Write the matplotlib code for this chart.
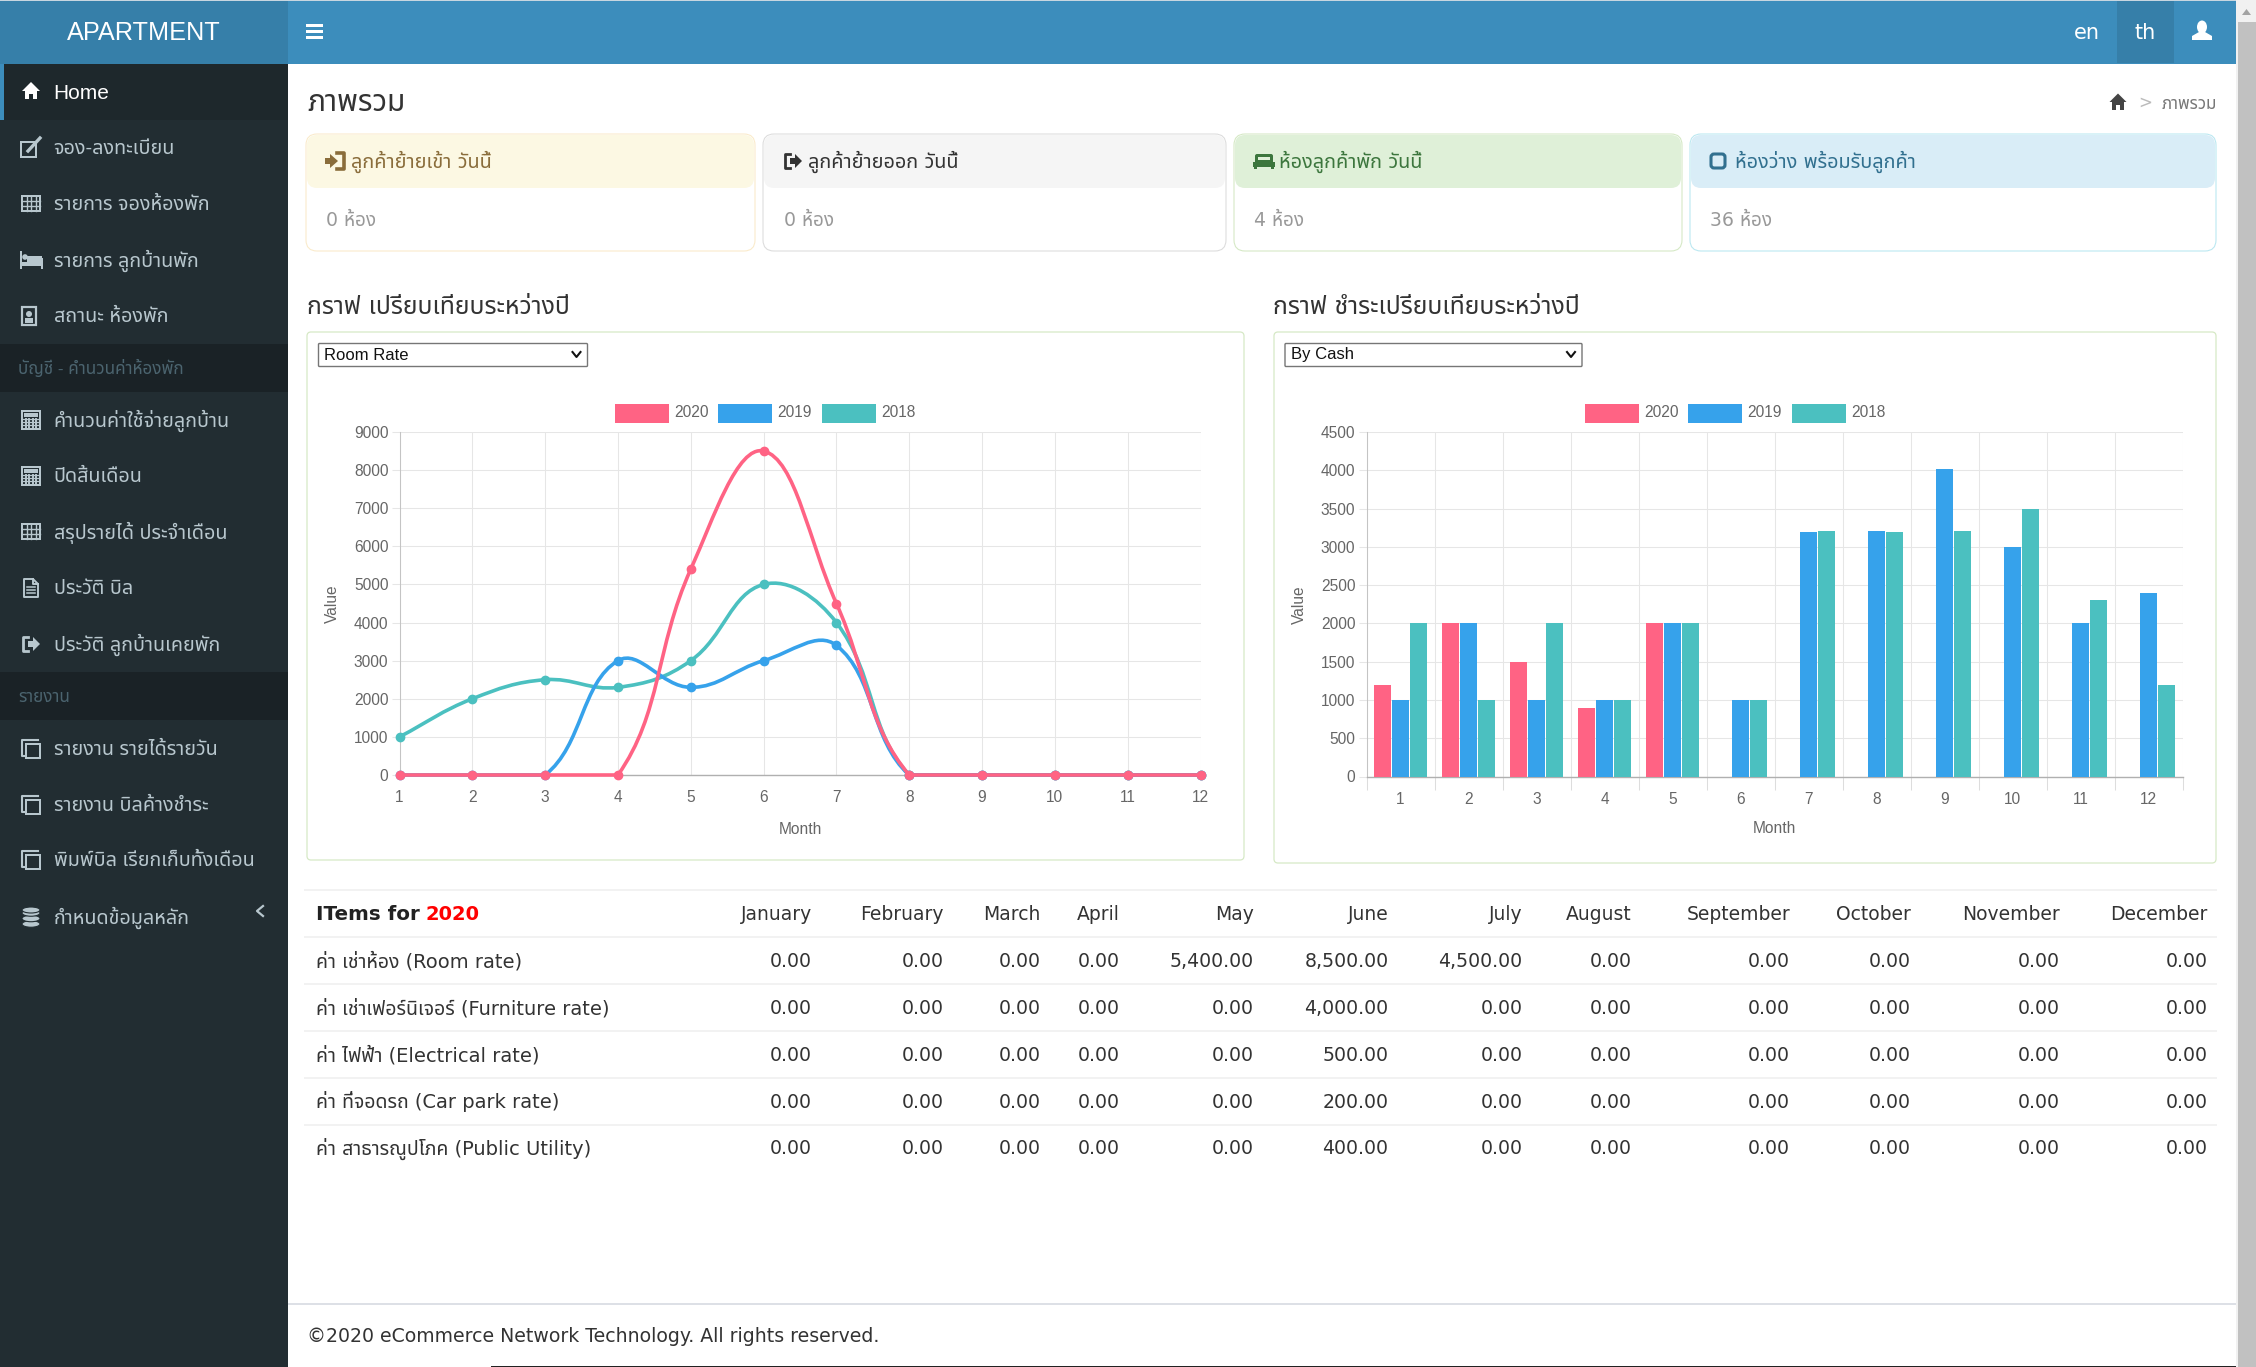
import numpy as np
import matplotlib
matplotlib.use("Agg")
import matplotlib.pyplot as plt
from matplotlib.patches import Rectangle, FancyBboxPatch, Polygon, Circle, Ellipse, PathPatch
from matplotlib.path import Path

W, H = 2256, 1367
plt.rcParams['font.family'] = ['Liberation Sans', 'Noto Sans Thai']
BODY = ['DejaVu Sans', 'Noto Sans Thai']
ARIAL = ['Liberation Sans', 'Noto Sans Thai']

# ---- data ----
months = list(range(1, 13))
series_names = ["2020", "2019", "2018"]
series_colors = ["#ff6384", "#36a2eb", "#4bc0c0"]

room_2020 = [0, 0, 0, 0, 5400, 8500, 4500, 0, 0, 0, 0, 0]
room_2019 = [0, 0, 0, 3000, 2300, 3000, 3400, 0, 0, 0, 0, 0]
room_2018 = [1000, 2000, 2500, 2300, 3000, 5000, 4000, 0, 0, 0, 0, 0]

cash_2020 = [1200, 2000, 1500, 900, 2000, 0, 0, 0, 0, 0, 0, 0]
cash_2019 = [1000, 2000, 1000, 1000, 2000, 1000, 3200, 3210, 4020, 3000, 2000, 2400]
cash_2018 = [2000, 1000, 2000, 1000, 2000, 1000, 3210, 3200, 3210, 3500, 2300, 1200]

month_names = ["January", "February", "March", "April", "May", "June", "July",
               "August", "September", "October", "November", "December"]
row_labels = ["ค่า เช่าห้อง (Room rate)", "ค่า เช่าเฟอร์นิเจอร์ (Furniture rate)",
              "ค่า ไฟฟ้า (Electrical rate)", "ค่า ที่จอดรถ (Car park rate)",
              "ค่า สาธารณูปโภค (Public Utility)"]
room_rate = [0, 0, 0, 0, 5400, 8500, 4500, 0, 0, 0, 0, 0]
furniture_rate = [0, 0, 0, 0, 0, 4000, 0, 0, 0, 0, 0, 0]
electrical_rate = [0, 0, 0, 0, 0, 500, 0, 0, 0, 0, 0, 0]
car_park_rate = [0, 0, 0, 0, 0, 200, 0, 0, 0, 0, 0, 0]
public_utility = [0, 0, 0, 0, 0, 400, 0, 0, 0, 0, 0, 0]

menu_top = ["Home", "จอง-ลงทะเบียน", "รายการ จองห้องพัก", "รายการ ลูกบ้านพัก", "สถานะ ห้องพัก"]
menu_account = ["คำนวนค่าใช้จ่ายลูกบ้าน", "ปิดสิ้นเดือน", "สรุปรายได้ ประจำเดือน", "ประวัติ บิล", "ประวัติ ลูกบ้านเคยพัก"]
menu_report = ["รายงาน รายได้รายวัน", "รายงาน บิลค้างชำระ", "พิมพ์บิล เรียกเก็บทั้งเดือน", "กำหนดข้อมูลหลัก"]
card_titles = ["ลูกค้าย้ายเข้า วันนี้", "ลูกค้าย้ายออก วันนี้", "ห้องลูกค้าพัก วันนี้", "ห้องว่าง พร้อมรับลูกค้า"]
card_values = ["0 ห้อง", "0 ห้อง", "4 ห้อง", "36 ห้อง"]

fig = plt.figure(figsize=(W / 100, H / 100), dpi=100, facecolor="white")
bg = fig.add_axes([0, 0, 1, 1])
bg.set_xlim(0, W)
bg.set_ylim(H, 0)
bg.axis("off")


def rect(x0, y0, x1, y1, c, z=1):
    bg.add_patch(Rectangle((x0, y0), x1 - x0, y1 - y0, fc=c, ec="none", zorder=z))


def label(x, y, s, size, c, ha="left", fam=ARIAL, **kw):
    bg.text(x, y, s, fontsize=size, color=c, ha=ha, va="center", family=fam, zorder=5, **kw)


def hline(x0, x1, y, c, lw=1.0):
    bg.plot([x0, x1], [y, y], color=c, lw=lw * 0.72, zorder=2, solid_capstyle="butt")


def outline(x, y, w, h, c, lw=2.0, z=4):
    bg.add_patch(Rectangle((x, y), w, h, fc="none", ec=c, lw=lw * 0.72, zorder=z))


# ---- icons ----
def icon_home(x, y, c, s=1.0):
    bg.add_patch(Polygon([(x - 10 * s, y), (x, y - 10 * s), (x + 10 * s, y)], fc=c, ec="none", zorder=4))
    bg.add_patch(Polygon([(x - 7 * s, y), (x + 7 * s, y), (x + 7 * s, y + 9 * s), (x + 2 * s, y + 9 * s),
                          (x + 2 * s, y + 3 * s), (x - 2 * s, y + 3 * s), (x - 2 * s, y + 9 * s), (x - 7 * s, y + 9 * s)],
                         fc=c, ec="none", zorder=4))


def icon_grid(x, y, c, nx=4, ny=3):
    outline(x - 9, y - 8, 18, 15, c)
    for i in range(1, nx):
        bg.plot([x - 9 + 18 * i / nx] * 2, [y - 8, y + 7], color=c, lw=1.0, zorder=4)
    for i in range(1, ny):
        bg.plot([x - 9, x + 9], [y - 8 + 15 * i / ny] * 2, color=c, lw=1.0, zorder=4)


def icon_edit(x, y, c):
    outline(x - 10, y - 6, 15, 15, c, 2.0)
    bg.plot([x - 3, x + 9], [y + 3, y - 10], color=c, lw=2.4, zorder=4)


def icon_bed(x, y, c):
    rect(x - 11, y - 9, x - 9, y + 9, c, 4)
    rect(x - 9, y + 2, x + 12, y + 6, c, 4)
    rect(x + 10, y - 2, x + 12, y + 9, c, 4)
    rect(x - 4, y - 4, x + 11, y + 2, c, 4)
    bg.add_patch(Circle((x - 6, y - 3), 2.8, fc=c, ec="none", zorder=4))


def icon_contact(x, y, c):
    outline(x - 7, y - 9, 14, 18, c, 2.2)
    bg.add_patch(Circle((x, y - 2), 3, fc=c, ec="none", zorder=4))
    rect(x - 4, y + 2, x + 4, y + 7, c, 4)


def icon_calc(x, y, c):
    outline(x - 9, y - 9, 18, 18, c, 2.0)
    rect(x - 7, y - 7, x + 7, y - 3, c, 4)
    for i in range(4):
        bg.plot([x - 5.4 + 3.6 * i] * 2, [y - 1, y + 8], color=c, lw=1.4, zorder=4)
    for j in range(3):
        bg.plot([x - 8, x + 8], [y - 1 + 3 * j] * 2, color=c, lw=0.9, zorder=4)


def icon_doc(x, y, c):
    bg.plot([x + 2, x - 7, x - 7, x + 7, x + 7, x + 2, x + 2, x + 7], [y - 9, y - 9, y + 9, y + 9, y - 4, y - 9, y - 4, y - 4],
            color=c, lw=1.4, zorder=4)
    for j in range(3):
        bg.plot([x - 4, x + 4], [y - 1 + 3.2 * j] * 2, color=c, lw=1.1, zorder=4)


def icon_signout(x, y, c, filled=True):
    bg.plot([x - 3, x - 8, x - 8, x - 3], [y - 7, y - 7, y + 7, y + 7], color=c, lw=2, zorder=4)
    bg.add_patch(Polygon([(x - 3, y - 3), (x + 2, y - 3), (x + 2, y - 7), (x + 9, y), (x + 2, y + 7),
                          (x + 2, y + 3), (x - 3, y + 3)], fc=c, ec="none", zorder=4))


def icon_signin(x, y, c):
    bg.plot([x + 1, x + 8, x + 8, x + 1], [y - 8, y - 8, y + 8, y + 8], color=c, lw=2.6, zorder=4)
    bg.add_patch(Polygon([(x - 11, y - 3), (x - 6, y - 3), (x - 6, y - 7), (x + 2, y), (x - 6, y + 7),
                          (x - 6, y + 3), (x - 11, y + 3)], fc=c, ec="none", zorder=4))


def icon_copy(x, y, c):
    bg.plot([x + 7, x - 9, x - 9, x - 6], [y - 9, y - 9, y + 7, y + 7], color=c, lw=1.5, zorder=4)
    outline(x - 5, y - 5, 14, 14, c, 2.0)


def icon_db(x, y, c):
    for dy in (7, 1.5, -4):
        bg.add_patch(Ellipse((x, y + dy), 18, 6.5, fc=c, ec="#222d32", lw=0.8, zorder=4))
    bg.add_patch(Ellipse((x, y - 7), 18, 6, fc=c, ec="#222d32", lw=0.8, zorder=4))


def icon_user(x, y, c):
    bg.add_patch(Ellipse((x, y - 4), 10, 13, fc=c, ec="none", zorder=4))
    bg.add_patch(Polygon([(x - 10, y + 9), (x - 10, y + 5), (x - 3, y + 1), (x + 3, y + 1), (x + 10, y + 5), (x + 10, y + 9)],
                         fc=c, ec="none", zorder=4))


def icon_bus(x, y, c):
    bg.add_patch(FancyBboxPatch((x - 9, y - 7), 18, 12, boxstyle="round,pad=0,rounding_size=2", fc=c, ec="none", zorder=4))
    rect(x - 11, y + 1, x + 11, y + 6, c, 4)
    rect(x - 6, y - 4, x + 6, y - 1, "#dff0d8", 5)
    rect(x - 10, y + 6, x - 7, y + 8, c, 4)
    rect(x + 7, y + 6, x + 10, y + 8, c, 4)


def icon_square(x, y, c):
    bg.add_patch(FancyBboxPatch((x - 7, y - 7), 14, 14, boxstyle="round,pad=0,rounding_size=3", fc="none", ec=c, lw=2.2, zorder=4))


# ---- page chrome ----
rect(0, 0, 288, 64, "#367fa9")
rect(288, 0, 2236, 64, "#3c8dbc")
rect(0, 0, 2236, 1.2, "#c8d6e0", 2)
rect(0, 64, 288, H, "#222d32")
rect(2117, 1, 2174, 63, "#367fa9", 2)
rect(2236, 0, 2256, H, "#f1f1f1")
rect(2238, 22, 2256, H, "#c1c1c1", 2)
bg.add_patch(Polygon([(2242, 15), (2246.5, 9), (2251, 15)], fc="#a3a3a3", ec="none", zorder=3))

label(144, 33, "APARTMENT", 18.2, "white", ha="center")
for yy in (25.5, 31.5, 37.5):
    rect(306, yy - 1.7, 323, yy + 1.7, "white", 3)
label(2087, 33, "en", 15, "white", ha="center", fam=BODY)
label(2145, 33, "th", 15, "white", ha="center", fam=BODY)
icon_user(2202, 31, "white")

# sidebar
rect(0, 64, 288, 120, "#1e282c", 2)
rect(0, 64, 4, 120, "#3c8dbc", 3)
rect(0, 344, 288, 392, "#1a2226", 2)
rect(0, 672, 288, 720, "#1a2226", 2)
top_y = [92, 148, 204, 260, 316]
acc_y = [420, 476, 532, 588, 644]
rep_y = [749, 805, 860, 917]
for i, (s, yy) in enumerate(zip(menu_top, top_y)):
    if i == 0:
        label(53.5, yy + 1.5, s, 15.0, "white")
    else:
        label(53.5, yy + 1, s, 14.2, "#b8c7ce")
for s, yy in zip(menu_account, acc_y):
    label(53.5, yy + 0.5, s, 14.2, "#b8c7ce")
for s, yy in zip(menu_report, rep_y):
    label(53.5, yy + 0.5, s, 14.2, "#b8c7ce")
label(18, 368, "บัญชี - คำนวนค่าห้องพัก", 12.3, "#4b646f")
label(18, 697, "รายงาน", 12.3, "#4b646f")
side = "#b8c7ce"
icon_home(31, 91, "white", 0.9)
icon_edit(31, 148, side)
icon_grid(31, 204, side)
icon_bed(31, 260, side)
icon_contact(29, 316, side)
icon_calc(31, 420, side)
icon_calc(31, 476, side)
icon_grid(31, 532, side)
icon_doc(31, 588, side)
icon_signout(31, 644, side)
for yy in rep_y[:3]:
    icon_copy(31, yy, side)
icon_db(31, 917, side)
bg.plot([263, 257, 263], [906, 911, 916], color=side, lw=1.6, zorder=4)

# title + breadcrumb
label(307, 102.5, "ภาพรวม", 21.5, "#333333", fam=BODY)
icon_home(2118, 102, "#444444", 0.85)
label(2145, 103, ">", 12, "#bbbbbb", ha="center", fam=BODY)
label(2217, 104, "ภาพรวม", 12.1, "#777777", ha="right", fam=BODY)

# info cards
card_x = [(306, 755), (763, 1226), (1234, 1682), (1690, 2216)]
card_border = ["#faebcc", "#dddddd", "#d6e9c6", "#bce8f1"]
card_head = ["#fcf8e3", "#f5f5f5", "#dff0d8", "#d9edf7"]
card_text = ["#8a6d3b", "#333333", "#3c763d", "#31708f"]
for i, (x0, x1) in enumerate(card_x):
    bg.add_patch(FancyBboxPatch((x0, 134), x1 - x0, 117, boxstyle="round,pad=0,rounding_size=11",
                                fc="white", ec=card_border[i], lw=0.8, zorder=2))
    bg.add_patch(FancyBboxPatch((x0 + 1, 135), x1 - x0 - 2, 53, boxstyle="round,pad=0,rounding_size=10",
                                fc=card_head[i], ec="none", zorder=3))
    label(x0 + 45, 162, card_titles[i], 14.3, card_text[i], fam=BODY)
    label(x0 + 20.5, 220, card_values[i], 13.6, "#999999", fam=BODY)
icon_signin(336, 161, card_text[0])
icon_signout(793, 161, card_text[1])
icon_bus(1264, 161, card_text[2])
icon_square(1718, 161, card_text[3])

# chart cards
label(307, 307, "กราฟ เปรียบเทียบระหว่างปี", 17.8, "#333333", fam=BODY)
label(1273, 307, "กราฟ ชำระเปรียบเทียบระหว่างปี", 17.8, "#333333", fam=BODY)
for x0, x1, y1 in [(307, 1244, 860), (1274, 2216, 863)]:
    bg.add_patch(FancyBboxPatch((x0, 332), x1 - x0, y1 - 332, boxstyle="round,pad=0,rounding_size=4",
                                fc="white", ec="#d6e9c6", lw=0.9, zorder=1))

for x0, x1, s in [(318.5, 587.5, "Room Rate"), (1285, 1582, "By Cash")]:
    bg.add_patch(FancyBboxPatch((x0, 343.5), x1 - x0, 23, boxstyle="round,pad=0,rounding_size=1",
                                fc="white", ec="#767676", lw=1.0, zorder=2))
    label(x0 + 6, 355, s, 12.0, "#111111")
    bg.plot([x1 - 15, x1 - 11, x1 - 7], [352, 357, 352], color="#111111", lw=1.5, zorder=4)

for base in (615, 1585):
    for i, name in enumerate(series_names):
        sx = base + i * 103.4
        rect(sx, 403.5, sx + 54, 422.5, series_colors[i], 3)
        label(sx + 59, 412.5, name, 11.2, "#666666")


def make_axes(l, r, t, b):
    ax = fig.add_axes([l / W, 1 - b / H, (r - l) / W, (b - t) / H])
    ax.set_facecolor("none")
    ax.set_axisbelow(True)
    ax.grid(True, color="#e6e6e6", lw=0.75)
    for sp in ("top", "right"):
        ax.spines[sp].set_visible(False)
    ax.spines["left"].set_color("#c4c4c4")
    ax.spines["bottom"].set_color("#b0b0b0")
    ax.spines["left"].set_linewidth(0.75)
    ax.spines["bottom"].set_linewidth(1.0)
    ax.tick_params(colors="#666666", labelsize=11.2, color="#e6e6e6", width=0.75)
    return ax


def spline_segments(xs, ys, sx, sy, t=0.4):
    # same bezier smoothing as chart.js, worked out in pixel space
    px = np.array(xs, float) * sx
    py = np.array(ys, float) * sy
    n = len(px)
    verts = [(px[0], py[0])]
    codes = [Path.MOVETO]
    before, after = [None] * n, [None] * n
    for i in range(n):
        p0 = max(i - 1, 0)
        p2 = min(i + 1, n - 1)
        d01 = np.hypot(px[i] - px[p0], py[i] - py[p0])
        d12 = np.hypot(px[p2] - px[i], py[p2] - py[i])
        tot = d01 + d12
        s01 = d01 / tot if tot else 0
        s12 = d12 / tot if tot else 0
        before[i] = (px[i] - t * s01 * (px[p2] - px[p0]), max(py[i] - t * s01 * (py[p2] - py[p0]), 0))
        after[i] = (px[i] + t * s12 * (px[p2] - px[p0]), max(py[i] + t * s12 * (py[p2] - py[p0]), 0))
    for i in range(n - 1):
        verts += [after[i], before[i + 1], (px[i + 1], py[i + 1])]
        codes += [Path.CURVE4] * 3
    verts = np.array(verts) / [sx, sy]
    return Path(verts, codes)


# ---- line chart ----
ax1 = make_axes(399.5, 1200.5, 432, 775)
ax1.set_xlim(1, 12)
ax1.set_ylim(0, 9000)
ax1.set_xticks(months)
ax1.set_yticks(range(0, 9001, 1000))
ax1.tick_params(axis="x", length=0, pad=11)
ax1.tick_params(axis="y", length=6, pad=2)
sx1, sy1 = 801 / 11, 343 / 9000
room_series = [room_2020, room_2019, room_2018]
for i in (2, 1, 0):
    pth = spline_segments(months, room_series[i], sx1, sy1)
    ax1.add_patch(PathPatch(pth, fc="none", ec=series_colors[i], lw=2.6, zorder=3 + (2 - i), clip_on=False))
    ax1.plot(months, room_series[i], "o", color=series_colors[i], ms=6, mec=series_colors[i],
             zorder=3 + (2 - i), clip_on=False)
ax1.set_xlabel("Month", fontsize=11.2, color="#666666", labelpad=12)
ax1.set_ylabel("Value", fontsize=11.2, color="#666666", labelpad=10)

# ---- bar chart ----
ax2 = make_axes(1366.5, 2182.5, 432, 776.5)
ax2.set_xlim(0.5, 12.5)
ax2.set_ylim(0, 4500)
ax2.set_xticks(months)
ax2.set_xticks(np.arange(0.5, 12.6, 1), minor=True)
ax2.set_yticks(range(0, 4501, 500))
ax2.xaxis.grid(False)
ax2.grid(True, which="minor", axis="x", color="#e6e6e6", lw=0.75)
ax2.tick_params(axis="x", which="major", length=0, pad=11)
ax2.tick_params(axis="x", which="minor", length=9, color="#dddddd", width=0.75)
ax2.tick_params(axis="y", length=6, pad=2)
cash_series = [cash_2020, cash_2019, cash_2018]
for i, vals in enumerate(cash_series):
    ax2.bar(np.array(months) + (i - 1) * 0.2667, vals, width=0.24, color=series_colors[i], zorder=3)
ax2.set_xlabel("Month", fontsize=11.2, color="#666666", labelpad=10.5)
ax2.set_ylabel("Value", fontsize=11.2, color="#666666", labelpad=10)

# ---- table ----
col_right = [812, 943.5, 1040.5, 1120, 1254, 1388.5, 1522.5, 1632, 1790, 1911, 2060, 2207.5]
line_y = [890, 937, 984, 1031, 1078, 1125]
head_y = 914
row_y = [961.5, 1008.5, 1055.5, 1102, 1149]
rows = [room_rate, furniture_rate, electrical_rate, car_park_rate, public_utility]
for yy in line_y:
    hline(304, 2217, yy, "#f2f2f2", 2)
bg.text(316, head_y, "ITems for", fontsize=14.3, color="#222222", weight="bold", family=BODY, va="center", zorder=5)
bg.text(425.5, head_y, "2020", fontsize=14, color="#ff0000", weight="bold", family=BODY, va="center", zorder=5)
for name, xr in zip(month_names, col_right):
    label(xr, head_y, name, 13.5, "#333333", ha="right", fam=BODY)
for lab, vals, yy in zip(row_labels, rows, row_y):
    label(316.5, yy, lab, 14.0, "#333333", fam=BODY)
    for v, xr in zip(vals, col_right):
        label(xr, yy, f"{v:,.2f}", 13.6, "#333333", ha="right", fam=BODY)

# footer
hline(288, 2236, 1304, "#d2d6de", 1.5)
label(307, 1337, "©2020 eCommerce Network Technology. All rights reserved.", 13.55, "#333333", fam=BODY)
rect(491, 1365.6, 2236, H, "#222222", 3)

fig.savefig("out.png", dpi=100)
